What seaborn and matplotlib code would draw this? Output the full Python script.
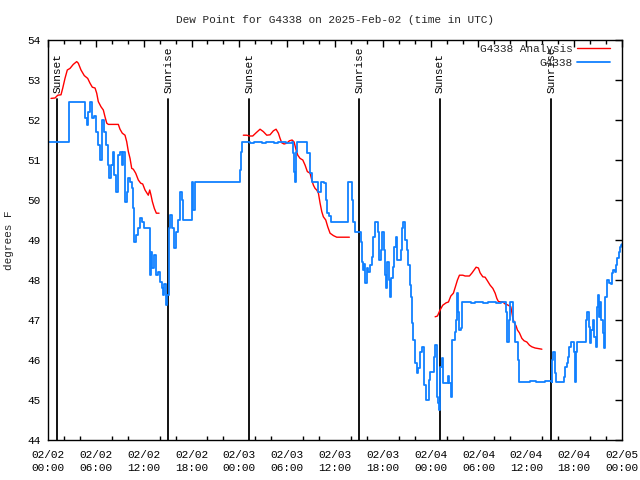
import matplotlib
matplotlib.use("Agg")
import matplotlib.pyplot as plt
from matplotlib.lines import Line2D
from matplotlib.ticker import MultipleLocator
import seaborn as sns
import pandas as pd

# ---------------- data (hours since 2025-02-02 00:00 UTC, degrees F) ----------------
blue_h = [0.0, 2.51, 2.63, 4.43, 4.64, 4.86, 5.06, 5.31, 5.48, 5.81, 5.98, 6.31, 6.52, 6.81, 7.06,
          7.28, 7.49, 7.69, 7.87, 8.12, 8.32, 8.53, 8.75, 9.03, 9.25, 9.45, 9.66, 9.87, 10.08, 10.33,
          10.50, 10.67, 10.83, 11.00, 11.33, 11.58, 11.76, 12.01, 12.58, 12.76, 12.92, 13.09, 13.34,
          13.59, 13.84, 14.02, 14.27, 14.43, 14.59, 14.77, 14.97, 15.18, 15.35, 15.52, 15.77, 16.05,
          16.31, 16.56, 16.85, 16.98, 17.82, 18.03, 18.23, 18.44, 24.0, 24.09, 24.22, 24.30, 25.4,
          25.9, 26.9, 27.4, 28.4, 28.9, 29.9, 30.58, 30.78, 30.90, 31.03, 31.12, 31.28, 32.37,
          32.53, 32.79, 32.87, 33.09, 33.79, 33.92, 34.22, 34.67, 34.88, 35.04, 35.29, 35.51,
          37.26, 37.68, 37.98, 38.11, 38.31, 38.52, 39.06, 39.24, 39.36, 39.49, 39.65, 39.81,
          39.99, 40.19, 40.40, 40.61, 40.82, 41.03, 41.32, 41.44, 41.57, 41.74, 41.87, 42.07,
          42.20, 42.32, 42.41, 42.57, 42.78, 42.91, 43.07, 43.32, 43.45, 43.63, 43.83, 44.04,
          44.25, 44.45, 44.58, 44.79, 45.01, 45.21, 45.42, 45.55, 45.67, 45.83, 46.05, 46.26,
          46.46, 46.68, 46.89, 47.09, 47.21, 47.43, 47.59, 47.77, 47.93, 48.34, 48.47, 48.59,
          48.77, 48.97, 49.10, 49.22, 49.40, 49.60, 50.03, 50.23, 50.36, 50.56, 50.73, 51.03,
          51.19, 51.36, 51.48, 51.61, 51.78, 51.91, 53.0, 53.6, 54.6, 55.2, 56.2, 56.8, 57.34,
          57.47, 57.63, 57.80, 57.97, 58.18, 58.38, 58.60, 58.88, 59.01, 59.13, 60.5, 61.2, 62.3,
          63.20, 63.28, 63.40, 63.58, 63.74, 64.66, 64.78, 64.91, 65.08, 65.24, 65.41, 65.58,
          65.91, 66.04, 66.16, 66.25, 66.41, 67.38, 67.50, 67.67, 67.84, 68.01, 68.17, 68.34,
          68.54, 68.72, 68.85, 68.97, 69.10, 69.26, 69.42, 69.60, 69.72, 69.80, 69.93, 70.10,
          70.39, 70.60, 70.77, 70.93, 71.14, 71.27, 71.43, 71.61, 71.77, 71.93, 72.0]
blue_v = [51.45, 51.45, 52.45, 52.45, 52.05, 51.87, 52.2, 52.45, 52.05, 52.1, 51.7, 51.37, 51.0, 52.0, 51.7,
          51.37, 50.87, 50.55, 50.87, 51.2, 50.62, 50.2, 51.12, 51.2, 50.87, 51.2, 49.96, 50.2, 50.55, 50.45,
          50.3, 49.8, 48.96, 49.12, 49.3, 49.55, 49.45, 49.3, 49.3, 48.12, 48.7, 48.3, 48.62,
          48.12, 48.2, 47.96, 47.8, 47.62, 47.9, 47.37, 47.62, 49.3, 49.62, 49.3, 48.8, 49.2,
          49.5, 50.2, 50.0, 49.5, 49.5, 50.46, 49.75, 50.46, 50.46, 50.75, 51.2, 51.46, 51.42,
          51.46, 51.42, 51.46, 51.42, 51.46, 51.42, 51.46, 51.17, 50.7, 50.46, 51.2, 51.46, 51.46,
          51.17, 51.17, 50.67, 50.46, 50.46, 50.2, 50.46, 50.42, 50.0, 49.67, 49.6, 49.46,
          49.46, 50.46, 50.46, 50.0, 49.45, 49.2, 49.2, 48.96, 48.46, 48.25, 48.4, 47.92,
          48.3, 48.2, 48.37, 48.58, 49.08, 49.46, 49.46, 49.2, 48.5, 48.75, 49.2, 49.2,
          48.75, 48.12, 47.8, 48.46, 48.0, 47.58, 48.05, 48.33, 48.83, 49.08, 48.5, 48.5,
          48.75, 49.29, 49.46, 49.0, 48.75, 48.37, 47.87, 47.58, 46.92, 46.5, 45.92, 45.67,
          45.8, 46.2, 46.33, 46.33, 45.37, 45.0, 45.0, 45.5, 45.7, 45.7, 46.08, 46.37,
          45.08, 44.92, 44.75, 45.83, 46.04, 45.42, 45.42, 45.6, 45.42, 45.08, 46.5, 46.7,
          47.0, 47.67, 47.2, 46.75, 46.8, 47.46, 47.43, 47.46, 47.43, 47.46, 47.43, 47.46, 47.46,
          47.21, 46.46, 47.0, 47.46, 47.46, 46.96, 46.46, 46.46, 46.0, 45.46, 45.48, 45.46, 45.48,
          45.46, 46.0, 46.2, 45.67, 45.46, 45.46, 45.58, 45.83, 45.92, 46.08, 46.33, 46.46,
          46.46, 46.2, 45.46, 46.2, 46.46, 46.46, 47.0, 47.21, 46.83, 46.42, 46.75, 47.0,
          46.58, 46.33, 47.33, 47.62, 47.08, 47.46, 47.0, 46.67, 46.5, 46.29, 47.58, 48.0,
          47.92, 47.9, 48.17, 48.25, 48.2, 48.37, 48.54, 48.71, 48.83, 48.87, 48.9]

red_h = [0.38, 0.88, 1.22, 1.63, 1.84, 2.13, 2.42, 2.76, 3.17, 3.60, 3.80, 4.14, 4.55, 4.98, 5.27,
         5.56, 5.90, 6.11, 6.31, 6.65, 6.94, 7.15, 7.37, 7.57, 8.82, 9.03, 9.32, 9.66, 9.87, 10.08,
         10.29, 10.50, 10.70, 11.00, 11.33, 11.63, 11.88, 12.17, 12.42, 12.58, 12.76, 12.92, 13.09,
         13.34, 13.59, 13.93,
         24.50, 24.93, 25.26, 25.68, 26.10, 26.60, 27.01, 27.44, 27.85, 28.27, 28.61, 28.90, 29.11,
         29.32, 29.61, 29.95, 30.28, 30.62, 30.87, 31.12, 31.33, 31.62, 31.96, 32.25, 32.53, 32.87,
         33.09, 33.29, 33.50, 33.71, 33.92, 34.13, 34.34, 34.54, 34.84, 35.09, 35.38, 35.80, 36.22,
         37.80,
         48.56, 48.85, 49.18, 49.52, 49.94, 50.23, 50.53, 50.85, 51.10, 51.36, 51.61, 52.03, 52.32,
         52.86, 53.16, 53.45, 53.70, 53.99, 54.20, 54.54, 54.83, 55.12, 55.46, 55.80, 56.09, 56.30,
         56.50, 57.05, 57.34, 57.63, 58.06, 58.31, 58.51, 58.72, 58.88, 59.13, 59.44, 59.72, 60.06,
         60.39, 60.69, 61.10, 61.39, 61.95]
red_v = [52.54, 52.55, 52.62, 52.63, 52.79, 53.04, 53.25, 53.29, 53.39, 53.46, 53.42, 53.25, 53.11, 53.04, 52.92,
         52.82, 52.8, 52.67, 52.46, 52.33, 52.25, 52.08, 51.92, 51.89, 51.89, 51.77, 51.67, 51.62, 51.46, 51.21,
         51.04, 50.79, 50.77, 50.67, 50.5, 50.42, 50.4, 50.25, 50.17, 50.12, 50.25, 50.12, 49.96,
         49.79, 49.67, 49.67,
         51.62, 51.62, 51.6, 51.6, 51.68, 51.77, 51.71, 51.62, 51.63, 51.73, 51.77, 51.67, 51.54,
         51.43, 51.4, 51.42, 51.48, 51.5, 51.45, 51.25, 51.12, 51.04, 51.0, 50.87, 50.71, 50.67,
         50.5, 50.37, 50.29, 50.25, 50.17, 49.92, 49.71, 49.58, 49.5, 49.33, 49.17, 49.11, 49.07,
         49.07,
         47.08, 47.1, 47.25, 47.37, 47.43, 47.45, 47.6, 47.67, 47.83, 48.0, 48.12, 48.12, 48.1,
         48.1, 48.17, 48.25, 48.32, 48.3, 48.18, 48.08, 48.07, 47.98, 47.87, 47.79, 47.67, 47.54,
         47.46, 47.45, 47.4, 47.38, 47.33, 47.04, 46.92, 46.85, 46.75, 46.68, 46.54, 46.48, 46.45,
         46.37, 46.33, 46.3, 46.29, 46.27]
red_seg = [1] * 46 + [2] * 40 + [3] * 44

sun_h = [1.17, 15.10, 25.26, 39.06, 49.18, 63.11]
sun_labels = ["Sunset", "Sunrise", "Sunset", "Sunrise", "Sunset", "Sunrise"]

xtick_h = [0, 6, 12, 18, 24, 30, 36, 42, 48, 54, 60, 66, 72]
xtick_labels = ["02/02\n00:00", "02/02\n06:00", "02/02\n12:00", "02/02\n18:00",
                "02/03\n00:00", "02/03\n06:00", "02/03\n12:00", "02/03\n18:00",
                "02/04\n00:00", "02/04\n06:00", "02/04\n12:00", "02/04\n18:00",
                "02/05\n00:00"]

title = "Dew Point for G4338 on 2025-Feb-02 (time in UTC)"
ylabel = "degrees F"
name_analysis = "G4338 Analysis"
name_obs = "G4338"

RED = "#ff0000"
BLUE = "#1080ff"

# ---------------- plot ----------------
sns.set_style("white")
FONT = ["Liberation Mono", "DejaVu Sans Mono"]
plt.rcParams["font.family"] = FONT
FS = 8

fig = plt.figure(figsize=(6.4, 4.8), dpi=100)
ax = fig.add_axes([48 / 640, 40 / 480, 574 / 640, 400 / 480])

blue_df = pd.DataFrame({"h": blue_h, "v": blue_v})
red_df = pd.DataFrame({"h": red_h, "v": red_v, "seg": red_seg})

sns.lineplot(data=red_df, x="h", y="v", units="seg", estimator=None, sort=False,
             color=RED, linewidth=1.0, ax=ax, legend=False)
sns.lineplot(data=blue_df, x="h", y="v", estimator=None, sort=False,
             color=BLUE, linewidth=1.3, drawstyle="steps-post", ax=ax, legend=False)

for h, lab in zip(sun_h, sun_labels):
    ax.plot([h, h], [44, 52.52], color="black", linewidth=1.3, zorder=1)
    ax.text(h, 52.68, lab, rotation=90, ha="center", va="bottom",
            fontsize=FS, family=FONT, color="black")

ax.set_xlim(0, 72)
ax.set_ylim(44, 54)
ax.set_xticks(xtick_h)
ax.set_xticklabels(xtick_labels, fontsize=FS, family=FONT, linespacing=1.45)
ax.xaxis.set_minor_locator(MultipleLocator(2))
ax.yaxis.set_major_locator(MultipleLocator(1))
for lab in ax.get_yticklabels():
    lab.set_fontsize(FS)
    lab.set_family(FONT)
ax.tick_params(axis="both", which="major", direction="in", length=5, width=1,
               top=True, right=True, color="black", pad=5, labelcolor="black")
ax.tick_params(axis="x", which="minor", direction="in", length=3, width=1,
               top=True, bottom=True, color="black")
ax.tick_params(axis="x", which="major", pad=7)
for s in ax.spines.values():
    s.set_visible(True)
    s.set_color("black")
    s.set_linewidth(1)

ax.set_xlabel("")
ax.set_ylabel(ylabel, fontsize=FS, family=FONT, labelpad=10)
fig.text(335 / 640, 1 - 20 / 480, title, ha="center", va="center", fontsize=FS, family=FONT)

handles = [Line2D([0], [0], color=RED, lw=1.0), Line2D([0], [0], color=BLUE, lw=1.3)]
leg = ax.legend(handles, [name_analysis, name_obs], loc="upper right",
                bbox_to_anchor=(1 - 8 / 574, 1.0), frameon=False,
                markerfirst=False, handlelength=3.0, handletextpad=0.4,
                labelspacing=0.35, borderaxespad=0.25, borderpad=0.1,
                prop={"family": FONT, "size": FS})

fig.savefig("out.png", dpi=100)
